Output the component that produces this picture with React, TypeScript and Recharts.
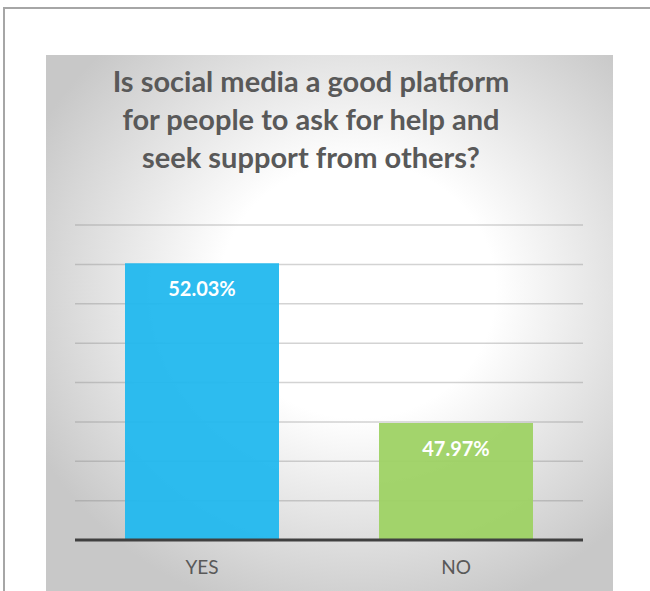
import React from 'react';
import { BarChart, Bar, XAxis, YAxis, CartesianGrid, LabelList, Cell } from 'recharts';

const answers = ['YES', 'NO'];
const shares = [52.03, 47.97];
const barColors = ['#22b8ee', '#9ed264'];
const yTicks = [45, 46, 47, 48, 49, 50, 51, 52, 53];
const titleLines = [
  'Is social media a good platform',
  'for people to ask for help and',
  'seek support from others?',
];

const data = answers.map((answer, i) => ({ answer, share: shares[i] }));

const fontStack = 'Lato, "Open Sans", "DejaVu Sans", sans-serif';

export default function App() {
  return (
    <div
      style={{
        position: 'absolute',
        left: 0,
        top: 0,
        width: 650,
        height: 591,
        background: '#fff',
        overflow: 'hidden',
        fontFamily: fontStack,
      }}
    >
      {/* page frame */}
      <div
        style={{
          position: 'absolute',
          left: 3,
          top: 7,
          right: 0,
          bottom: 0,
          borderTop: '2px solid #a6a6a6',
          borderLeft: '2px solid #a6a6a6',
        }}
      />
      {/* shaded chart panel */}
      <div
        style={{
          position: 'absolute',
          left: 46,
          top: 55,
          width: 567,
          height: 560,
          background:
            'radial-gradient(ellipse 64% 60% at 55% 42%, #ffffff 38%, #c8c8c8 100%)',
        }}
      />
      <div
        style={{
          position: 'absolute',
          left: 46,
          top: 62,
          width: 530,
          textAlign: 'center',
          color: '#595959',
          fontWeight: 700,
          fontSize: 29,
          lineHeight: '38px',
        }}
      >
        {titleLines.map((line) => (
          <div key={line}>{line}</div>
        ))}
      </div>
      <div style={{ position: 'absolute', left: 0, top: 0 }}>
        <BarChart
          width={650}
          height={591}
          data={data}
          margin={{ top: 225, right: 67, bottom: 21, left: 75 }}
        >
          <CartesianGrid
            vertical={false}
            stroke="#808080"
            strokeOpacity={0.35}
            strokeWidth={1.5}
          />
          <YAxis hide domain={[45, 53]} ticks={yTicks} allowDataOverflow />
          <XAxis
            dataKey="answer"
            height={30}
            tickLine={false}
            tickMargin={15}
            axisLine={{ stroke: '#404040', strokeWidth: 3 }}
            tick={{ fill: '#595959', fontSize: 19, fontFamily: fontStack }}
          />
          <Bar dataKey="share" barSize={154} fillOpacity={0.95} isAnimationActive={false}>
            {data.map((d, i) => (
              <Cell key={d.answer} fill={barColors[i]} />
            ))}
            <LabelList
              dataKey="share"
              position="insideTop"
              offset={19}
              formatter={(v: number) => `${v.toFixed(2)}%`}
              fill="#ffffff"
              style={{ fontSize: 20, fontWeight: 700, fontFamily: fontStack }}
            />
          </Bar>
        </BarChart>
      </div>
    </div>
  );
}
